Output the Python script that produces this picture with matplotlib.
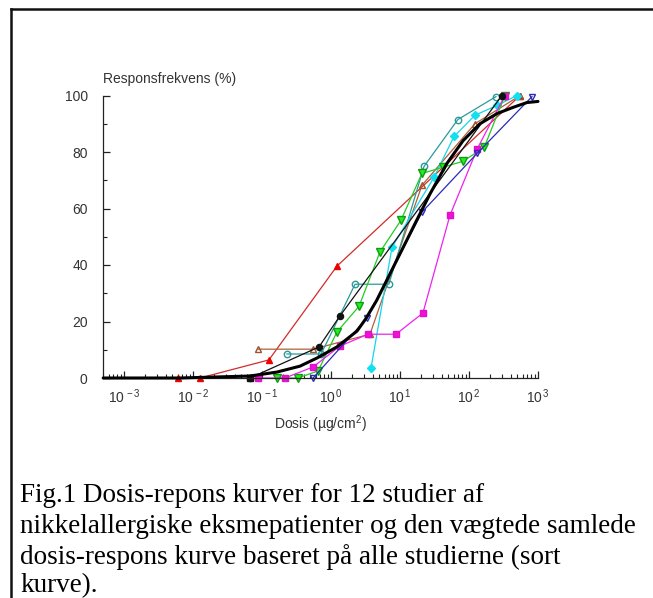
import matplotlib
matplotlib.use("Agg")
import matplotlib.pyplot as plt
from matplotlib.ticker import FixedLocator, NullFormatter, LogLocator
from matplotlib.lines import Line2D

plt.rcParams['font.family'] = ['Liberation Sans', 'DejaVu Sans']
plt.rcParams['mathtext.fontset'] = 'custom'
plt.rcParams['mathtext.rm'] = 'Liberation Sans'
plt.rcParams['mathtext.it'] = 'Liberation Sans:italic'

# ---------------- data (dose in ug/cm2, response in %) ----------------
red_x = [0.0061, 0.0126, 0.126, 1.22, 550]
red_y = [0, 0, 6.4, 39.6, 100]

brown_x = [0.0875, 0.55, 3.67, 20.8, 122, 550]
brown_y = [10.2, 10.2, 15.5, 68.2, 90, 100]

blackthin_x = [0.067, 0.67, 1.35, 300]
blackthin_y = [0, 11, 22, 100]

teal_x = [0.23, 0.72, 2.23, 6.9, 22.3, 69, 246]
teal_y = [8.5, 8.5, 33.2, 33.2, 74.9, 91.5, 99.6]

cyan_x = [3.8, 7.66, 31, 60.7, 122, 255, 495]
cyan_y = [3.5, 46.3, 71, 85.5, 93, 96.5, 100]

green_x = [0.165, 0.33, 0.65, 1.22, 2.55, 5.1, 10.3, 20.8, 42, 81.5, 166, 331]
green_y = [0, 0, 2.5, 16.3, 25.4, 44.5, 55.8, 72.4, 74.6, 76.7, 81.6, 100]

magenta_x = [0.0875, 0.215, 0.55, 1.35, 3.44, 8.75, 21.5, 53, 131, 331]
magenta_y = [0, 0, 3.9, 11.3, 15.5, 15.5, 23, 57.6, 81, 100]

blue_x = [0.55, 3.33, 20.8, 131, 818]
blue_y = [0, 21.2, 58.7, 79.5, 99.6]

pooled_x = [0.0005, 0.0065, 0.067, 0.165, 0.356, 0.63, 1.22, 2.38, 3.2, 4.6,
            7.2, 11, 17.6, 27, 48, 82, 144, 255, 435, 690, 1000]
pooled_y = [0, 0, 0.7, 2.1, 4.2, 7.1, 11, 16.6, 21, 27.5,
            37, 46, 56, 65, 76, 84, 90, 93.6, 95.8, 97.5, 97.9]

x_ticks = [1e-3, 1e-2, 1e-1, 1e0, 1e1, 1e2, 1e3]
x_ticklabels = [r'$\mathregular{10^{\,-3}}$', r'$\mathregular{10^{\,-2}}$',
                r'$\mathregular{10^{\,-1}}$', r'$\mathregular{10^{\,0}}$',
                r'$\mathregular{10^{\,1}}$', r'$\mathregular{10^{\,2}}$',
                r'$\mathregular{10^{\,3}}$']
y_ticks = [0, 20, 40, 60, 80, 100]
y_ticklabels = ['0', '20', '40', '60', '80', '100']

caption_lines = [
    "Fig.1 Dosis-repons kurver for 12 studier af",
    "nikkelallergiske eksmepatienter og den vægtede samlede",
    "dosis-respons kurve baseret på alle studierne (sort",
    "kurve).",
]

# ---------------- figure ----------------
W, H = 653, 598
fig = plt.figure(figsize=(W / 100, H / 100), dpi=100)
fig.patch.set_facecolor('white')

# outer frame (left and top edges)
fig.add_artist(Line2D([11 / W, 11 / W], [0, 1 - 9 / H], transform=fig.transFigure,
                      color='#111111', lw=1.8))
fig.add_artist(Line2D([11 / W, 1], [1 - 9 / H, 1 - 9 / H], transform=fig.transFigure,
                      color='#111111', lw=1.8))

ax_left, ax_right = 103, 538
ax_top, ax_bottom = 95.5, 378
ax = fig.add_axes([ax_left / W, 1 - ax_bottom / H,
                   (ax_right - ax_left) / W, (ax_bottom - ax_top) / H])
ax.set_xscale('log')
ax.set_xlim(10 ** -3.304, 1e3)
ax.set_ylim(0, 100)

common = dict(clip_on=False, lw=0.9)
ms = 4.6
ax.plot(red_x, red_y, color='#d42a2a', marker='^', ms=ms, mfc='#ee0000', mec='#ee0000', **common)
ax.plot(brown_x, brown_y, color='#b0603a', marker='^', ms=ms, mfc='none', mec='#a0522d', **common)
ax.plot(teal_x, teal_y, color='#2a9a9a', marker='o', ms=ms, mfc='none', mec='#2a9a9a', **common)
ax.plot(cyan_x, cyan_y, color='#10d8ea', marker='D', ms=3.6, mfc='#10e0f0', mec='#10e0f0', **common)
ax.plot(green_x, green_y, color='#22cc22', marker='v', ms=5.2, mfc='#22ee22', mec='#129a12', **common)
ax.plot(magenta_x, magenta_y, color='#ee22ee', marker='s', ms=4.4, mfc='#f010d8', mec='#e010c8', **common)
ax.plot(blue_x, blue_y, color='#2a2ab8', marker='v', ms=ms, mfc='none', mec='#2a2ab8', **common)
ax.plot(blackthin_x, blackthin_y, color='#111111', marker='o', ms=4.4, mfc='#111111', mec='#111111', **common)
ax.plot([blackthin_x[0]], [blackthin_y[0]], color='#111111', marker='s', ms=4.4, ls='none', clip_on=False)
ax.plot(pooled_x, pooled_y, color='black', lw=2.2, clip_on=False, zorder=5, solid_capstyle='round')

# spines / ticks
for s in ('top', 'right'):
    ax.spines[s].set_visible(False)
for s in ('left', 'bottom'):
    ax.spines[s].set_color('#222222')
    ax.spines[s].set_linewidth(0.9)

ax.xaxis.set_major_locator(FixedLocator(x_ticks))
ax.set_xticklabels(x_ticklabels)
ax.xaxis.set_minor_locator(LogLocator(base=10, subs=range(2, 10), numticks=20))
ax.xaxis.set_minor_formatter(NullFormatter())
ax.yaxis.set_major_locator(FixedLocator(y_ticks))
ax.set_yticklabels(y_ticklabels)
ax.yaxis.set_minor_locator(FixedLocator([10, 30, 50, 70, 90]))

ax.tick_params(axis='both', which='major', direction='in', length=5, width=0.9,
               color='#222222', labelsize=10, labelcolor='#333333')
ax.tick_params(axis='both', which='minor', direction='in', length=3, width=0.8,
               color='#222222')
ax.tick_params(axis='x', which='major', pad=7)
ax.tick_params(axis='y', which='major', pad=11)

fig.text(103 / W, 1 - 79 / H, "Responsfrekvens (%)", fontsize=10, color='#333333',
         ha='left', va='center')
fig.text(320 / W, 1 - 424 / H, "Dosis (µg/cm$\\mathregular{^2}$)", fontsize=10,
         color='#333333', ha='center', va='center')

# caption
cap_base = [502, 533, 564, 592]
for line, yb in zip(caption_lines, cap_base):
    fig.text(20 / W, 1 - yb / H, line, fontsize=19.5, family=['Liberation Serif', 'DejaVu Serif'],
             color='black', ha='left', va='baseline')

fig.savefig('out.png', dpi=100, facecolor='white')
